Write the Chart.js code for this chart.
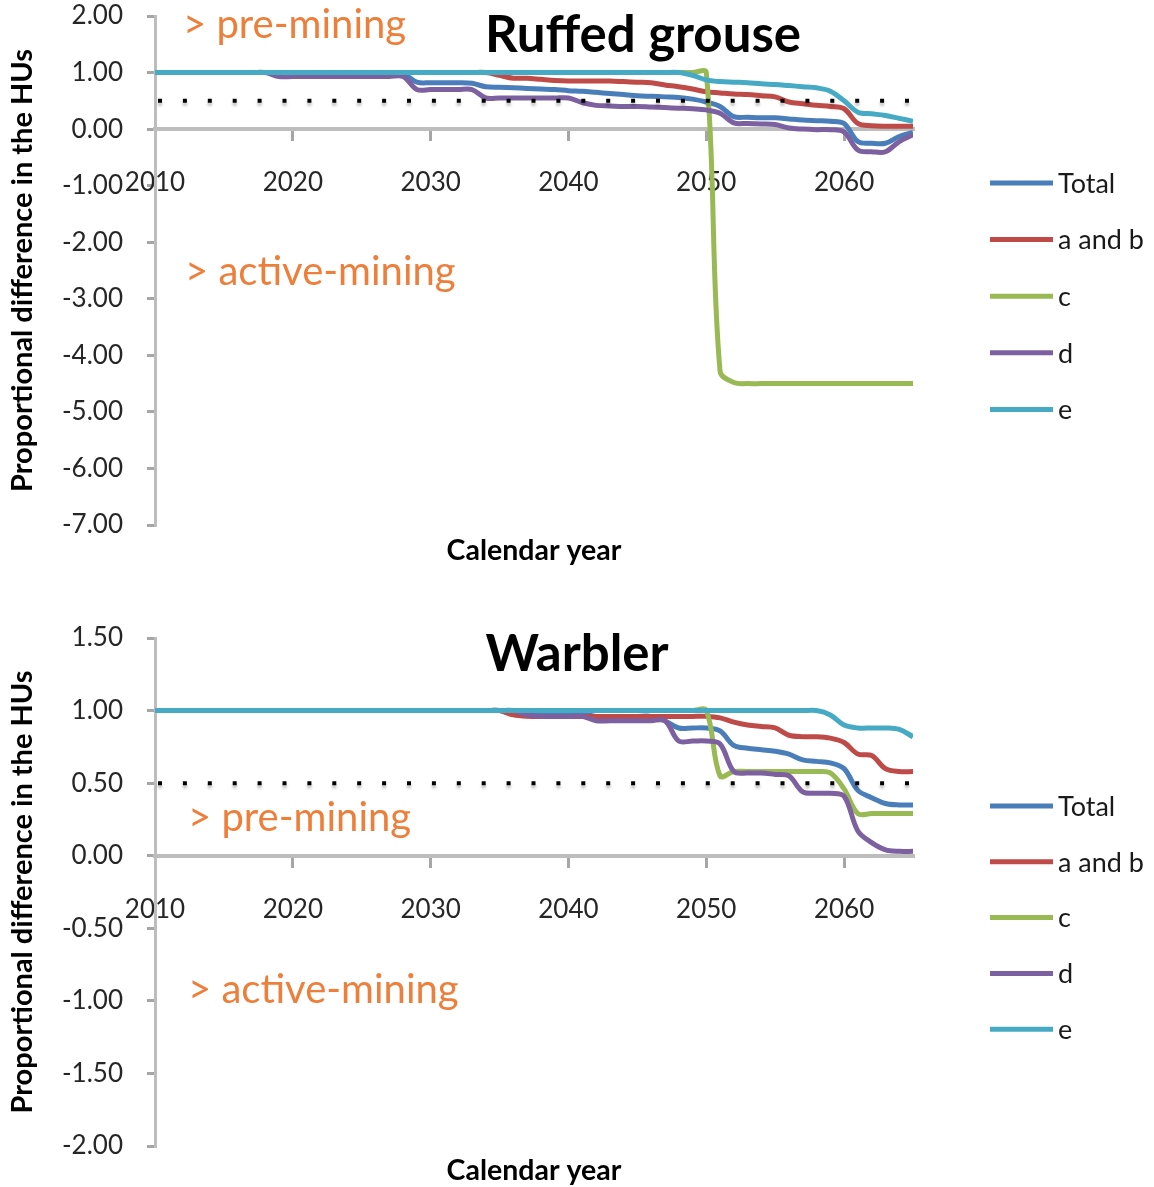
<!DOCTYPE html>
<html>
<head>
<meta charset="utf-8">
<script src="https://cdn.jsdelivr.net/npm/chart.js@4.4.1/dist/chart.umd.min.js"></script>
<style>
  html, body { margin: 0; padding: 0; background: #fff; }
  #wrap { position: relative; width: 1154px; height: 1187px; overflow: hidden; }
  .panel { position: absolute; left: 0; width: 1154px; }
  #p1 { top: 0; height: 590px; }
  #p2 { top: 590px; height: 597px; }
  canvas { display: block; }
</style>
</head>
<body>
<div id="wrap">
  <div class="panel" id="p1"><canvas id="c1" width="1154" height="590"></canvas></div>
  <div class="panel" id="p2"><canvas id="c2" width="1154" height="597"></canvas></div>
</div>
<script>
// ---- data ----
const years = [
  2010,2011,2012,2013,2014,2015,2016,2017,2018,2019,
  2020,2021,2022,2023,2024,2025,2026,2027,2028,2029,
  2030,2031,2032,2033,2034,2035,2036,2037,2038,2039,
  2040,2041,2042,2043,2044,2045,2046,2047,2048,2049,
  2050,2051,2052,2053,2054,2055,2056,2057,2058,2059,
  2060,2061,2062,2063,2064,2065
];
const seriesNames = ['Total', 'a and b', 'c', 'd', 'e'];
const xTicks = [2010, 2020, 2030, 2040, 2050, 2060];
const thresholdLevel = 0.5;
const thresholdYears = [2010, 2065.9];

// Ruffed grouse
const grouseTotal = [
  1.00,1.00,1.00,1.00,1.00,1.00,1.00,1.00,1.00,0.98,
  0.98,0.98,0.98,0.98,0.98,0.98,0.98,0.98,0.98,0.83,
  0.82,0.82,0.82,0.81,0.75,0.74,0.73,0.72,0.71,0.70,
  0.68,0.67,0.65,0.63,0.61,0.59,0.58,0.57,0.56,0.53,
  0.48,0.40,0.22,0.21,0.20,0.20,0.18,0.16,0.15,0.14,
  0.10,-0.22,-0.25,-0.25,-0.13,-0.06
];
const grouseAB = [
  1.00,1.00,1.00,1.00,1.00,1.00,1.00,1.00,1.00,1.00,
  1.00,1.00,1.00,1.00,1.00,1.00,1.00,1.00,1.00,1.00,
  1.00,1.00,1.00,1.00,1.00,0.95,0.90,0.90,0.88,0.86,
  0.85,0.85,0.85,0.85,0.84,0.83,0.82,0.78,0.75,0.71,
  0.66,0.64,0.62,0.61,0.59,0.57,0.48,0.45,0.42,0.40,
  0.36,0.10,0.06,0.05,0.05,0.05
];
const grouseC = [
  1.00,1.00,1.00,1.00,1.00,1.00,1.00,1.00,1.00,1.00,
  1.00,1.00,1.00,1.00,1.00,1.00,1.00,1.00,1.00,1.00,
  1.00,1.00,1.00,1.00,1.00,1.00,1.00,1.00,1.00,1.00,
  1.00,1.00,1.00,1.00,1.00,1.00,1.00,1.00,1.00,1.00,
  1.00,-4.28,-4.48,-4.50,-4.50,-4.50,-4.50,-4.50,-4.50,-4.50,
  -4.50,-4.50,-4.50,-4.50,-4.50,-4.50
];
const grouseD = [
  1.00,1.00,1.00,1.00,1.00,1.00,1.00,1.00,1.00,0.93,
  0.93,0.93,0.93,0.93,0.93,0.93,0.93,0.93,0.93,0.70,
  0.70,0.70,0.70,0.70,0.55,0.55,0.55,0.55,0.55,0.55,
  0.55,0.47,0.42,0.41,0.40,0.40,0.39,0.38,0.37,0.36,
  0.34,0.28,0.11,0.10,0.09,0.08,0.02,0.00,-0.01,-0.01,
  -0.05,-0.37,-0.40,-0.40,-0.22,-0.10
];
const grouseE = [
  1.00,1.00,1.00,1.00,1.00,1.00,1.00,1.00,1.00,1.00,
  1.00,1.00,1.00,1.00,1.00,1.00,1.00,1.00,1.00,1.00,
  1.00,1.00,1.00,1.00,1.00,1.00,1.00,1.00,1.00,1.00,
  1.00,1.00,1.00,1.00,1.00,1.00,1.00,1.00,1.00,0.95,
  0.87,0.84,0.83,0.82,0.80,0.79,0.77,0.75,0.73,0.67,
  0.50,0.30,0.27,0.24,0.19,0.14
];

// Warbler
const warblerTotal = [
  1.00,1.00,1.00,1.00,1.00,1.00,1.00,1.00,1.00,1.00,
  1.00,1.00,1.00,1.00,1.00,1.00,1.00,1.00,1.00,1.00,
  1.00,1.00,1.00,1.00,1.00,1.00,0.98,0.98,0.98,0.98,
  0.98,0.98,0.96,0.96,0.96,0.96,0.96,0.93,0.88,0.88,
  0.88,0.86,0.76,0.74,0.73,0.72,0.70,0.66,0.65,0.64,
  0.60,0.45,0.40,0.36,0.35,0.35
];
const warblerAB = [
  1.00,1.00,1.00,1.00,1.00,1.00,1.00,1.00,1.00,1.00,
  1.00,1.00,1.00,1.00,1.00,1.00,1.00,1.00,1.00,1.00,
  1.00,1.00,1.00,1.00,1.00,1.00,0.97,0.96,0.96,0.96,
  0.96,0.96,0.96,0.96,0.96,0.96,0.96,0.96,0.96,0.96,
  0.96,0.95,0.92,0.90,0.89,0.88,0.83,0.82,0.82,0.81,
  0.78,0.70,0.69,0.60,0.58,0.58
];
const warblerC = [
  1.00,1.00,1.00,1.00,1.00,1.00,1.00,1.00,1.00,1.00,
  1.00,1.00,1.00,1.00,1.00,1.00,1.00,1.00,1.00,1.00,
  1.00,1.00,1.00,1.00,1.00,1.00,1.00,1.00,1.00,1.00,
  1.00,1.00,1.00,1.00,1.00,1.00,1.00,1.00,1.00,1.00,
  1.00,0.55,0.58,0.58,0.58,0.58,0.58,0.58,0.58,0.57,
  0.46,0.29,0.29,0.29,0.29,0.29
];
const warblerD = [
  1.00,1.00,1.00,1.00,1.00,1.00,1.00,1.00,1.00,1.00,
  1.00,1.00,1.00,1.00,1.00,1.00,1.00,1.00,1.00,1.00,
  1.00,1.00,1.00,1.00,1.00,1.00,1.00,0.97,0.96,0.96,
  0.96,0.96,0.93,0.93,0.93,0.93,0.93,0.93,0.79,0.79,
  0.79,0.77,0.58,0.57,0.57,0.56,0.55,0.44,0.43,0.43,
  0.41,0.17,0.09,0.04,0.03,0.03
];
const warblerE = [
  1.00,1.00,1.00,1.00,1.00,1.00,1.00,1.00,1.00,1.00,
  1.00,1.00,1.00,1.00,1.00,1.00,1.00,1.00,1.00,1.00,
  1.00,1.00,1.00,1.00,1.00,1.00,1.00,1.00,1.00,1.00,
  1.00,1.00,1.00,1.00,1.00,1.00,1.00,1.00,1.00,1.00,
  1.00,1.00,1.00,1.00,1.00,1.00,1.00,1.00,1.00,0.97,
  0.90,0.88,0.88,0.88,0.87,0.82
];

// ---- styling ----
const FONT = 'Lato, "DejaVu Sans", sans-serif';
const seriesColors = ['#4A7EBB', '#BE4B48', '#98B954', '#7D60A0', '#46AAC5'];
const noteColor = '#EE7F3B';
const axisColor = '#BDBDBD';
const tickColor = '#A6A6A6';

Chart.defaults.font.family = FONT;

function toPoints(values) {
  return years.map((yr, i) => ({ x: yr, y: values[i] }));
}

function buildDatasets(seriesValues) {
  const sets = seriesValues.map((vals, i) => ({
    label: seriesNames[i],
    data: toPoints(vals),
    borderColor: seriesColors[i],
    backgroundColor: seriesColors[i],
    borderWidth: 5,
    pointRadius: 0,
    pointHoverRadius: 0,
    tension: 0.35,
    fill: false,
    order: seriesValues.length - i
  }));
  sets.push({
    label: '',
    isGuide: true,
    data: thresholdYears.map(yr => ({ x: yr, y: thresholdLevel })),
    borderColor: '#000',
    borderWidth: 4,
    borderDash: [4, 20.9],
    borderDashOffset: -3,
    borderCapStyle: 'butt',
    pointRadius: 0,
    tension: 0,
    clip: false,
    order: 0
  });
  return sets;
}

// Soft grey shadow under the dotted 0.5 guide line
const guideShadow = {
  id: 'guideShadow',
  beforeDatasetDraw(chart, args) {
    if (!chart.data.datasets[args.index].isGuide) return;
    const ctx = chart.ctx;
    ctx.save();
    ctx.shadowColor = 'rgba(0,0,0,0.28)';
    ctx.shadowBlur = 3;
    ctx.shadowOffsetY = 3;
  },
  afterDatasetDraw(chart, args) {
    if (!chart.data.datasets[args.index].isGuide) return;
    chart.ctx.restore();
  }
};

// Title, orange notes, x-axis caption and the series key
const textLayer = {
  id: 'textLayer',
  afterDraw(chart, args, opts) {
    const ctx = chart.ctx;
    const area = chart.chartArea;
    ctx.save();
    ctx.textBaseline = 'middle';

    ctx.fillStyle = '#000';
    ctx.textAlign = 'center';
    ctx.font = 'bold 51px ' + FONT;
    ctx.fillText(opts.title, opts.titleX, opts.titleY);

    ctx.fillStyle = noteColor;
    ctx.textAlign = 'left';
    ctx.font = '40px ' + FONT;
    opts.notes.forEach(n => ctx.fillText(n.text, n.x, n.y));

    ctx.fillStyle = '#000';
    ctx.textAlign = 'center';
    ctx.font = 'bold 28.5px ' + FONT;
    ctx.fillText('Calendar year', (area.left + area.right) / 2, area.bottom + opts.xTitleGap);

    const sets = chart.data.datasets.filter(d => !d.isGuide);
    ctx.font = '27px ' + FONT;
    ctx.textAlign = 'left';
    sets.forEach((d, i) => {
      const y = opts.legendTop + i * opts.legendStep;
      ctx.strokeStyle = d.borderColor;
      ctx.lineWidth = 5;
      ctx.lineCap = 'butt';
      ctx.beginPath();
      ctx.moveTo(990, y);
      ctx.lineTo(1053, y);
      ctx.stroke();
      ctx.fillStyle = '#1a1a1a';
      ctx.fillText(d.label, 1058, y + 1);
    });
    ctx.restore();
  }
};

function makeChart(canvasId, seriesValues, yMin, yMax, yStep, pad, text) {
  return new Chart(document.getElementById(canvasId), {
    type: 'line',
    data: { datasets: buildDatasets(seriesValues) },
    plugins: [guideShadow, textLayer],
    options: {
      responsive: false,
      animation: false,
      events: [],
      layout: { padding: pad },
      plugins: {
        legend: { display: false },
        tooltip: { enabled: false },
        textLayer: text
      },
      scales: {
        x: {
          type: 'linear',
          position: { y: 0 },
          min: 2010,
          max: 2065,
          afterBuildTicks: (scale) => { scale.ticks = xTicks.map(v => ({ value: v })); },
          ticks: {
            callback: (v) => String(v),
            color: '#262626',
            font: { size: 26 },
            padding: 28,
            maxRotation: 0,
            autoSkip: false
          },
          grid: {
            drawOnChartArea: false,
            drawTicks: true,
            tickLength: 10,
            color: tickColor,
            lineWidth: 3
          },
          border: { color: axisColor, width: 4 }
        },
        y: {
          min: yMin,
          max: yMax,
          afterFit: (scale) => {
            scale.width = 155;
            scale.paddingTop = 0;
            scale.paddingBottom = 0;
          },
          ticks: {
            stepSize: yStep,
            callback: (v) => Number(v).toFixed(2),
            color: '#262626',
            font: { size: 26 },
            padding: 24
          },
          grid: {
            drawOnChartArea: false,
            drawTicks: true,
            tickLength: 8,
            color: tickColor,
            lineWidth: 3
          },
          border: { color: axisColor, width: 3 },
          title: {
            display: true,
            text: 'Proportional difference in the HUs',
            color: '#000',
            font: { size: 29, weight: 'bold' },
            padding: { top: 5, bottom: 0 }
          }
        }
      }
    }
  });
}

makeChart('c1', [grouseTotal, grouseAB, grouseC, grouseD, grouseE], -7, 2, 1,
  { top: 16, bottom: 65, left: 0, right: 241 },
  {
    title: 'Ruffed grouse', titleX: 643, titleY: 36,
    notes: [
      { text: '> pre-mining', x: 183, y: 25 },
      { text: '> active-mining', x: 185, y: 272 }
    ],
    xTitleGap: 26,
    legendTop: 183, legendStep: 56.6
  });

makeChart('c2', [warblerTotal, warblerAB, warblerC, warblerD, warblerE], -2, 1.5, 0.5,
  { top: 48, bottom: 41, left: 0, right: 241 },
  {
    title: 'Warbler', titleX: 577, titleY: 65,
    notes: [
      { text: '> pre-mining', x: 188, y: 228 },
      { text: '> active-mining', x: 188, y: 400 }
    ],
    xTitleGap: 25,
    legendTop: 216, legendStep: 55.8
  });
</script>
</body>
</html>
